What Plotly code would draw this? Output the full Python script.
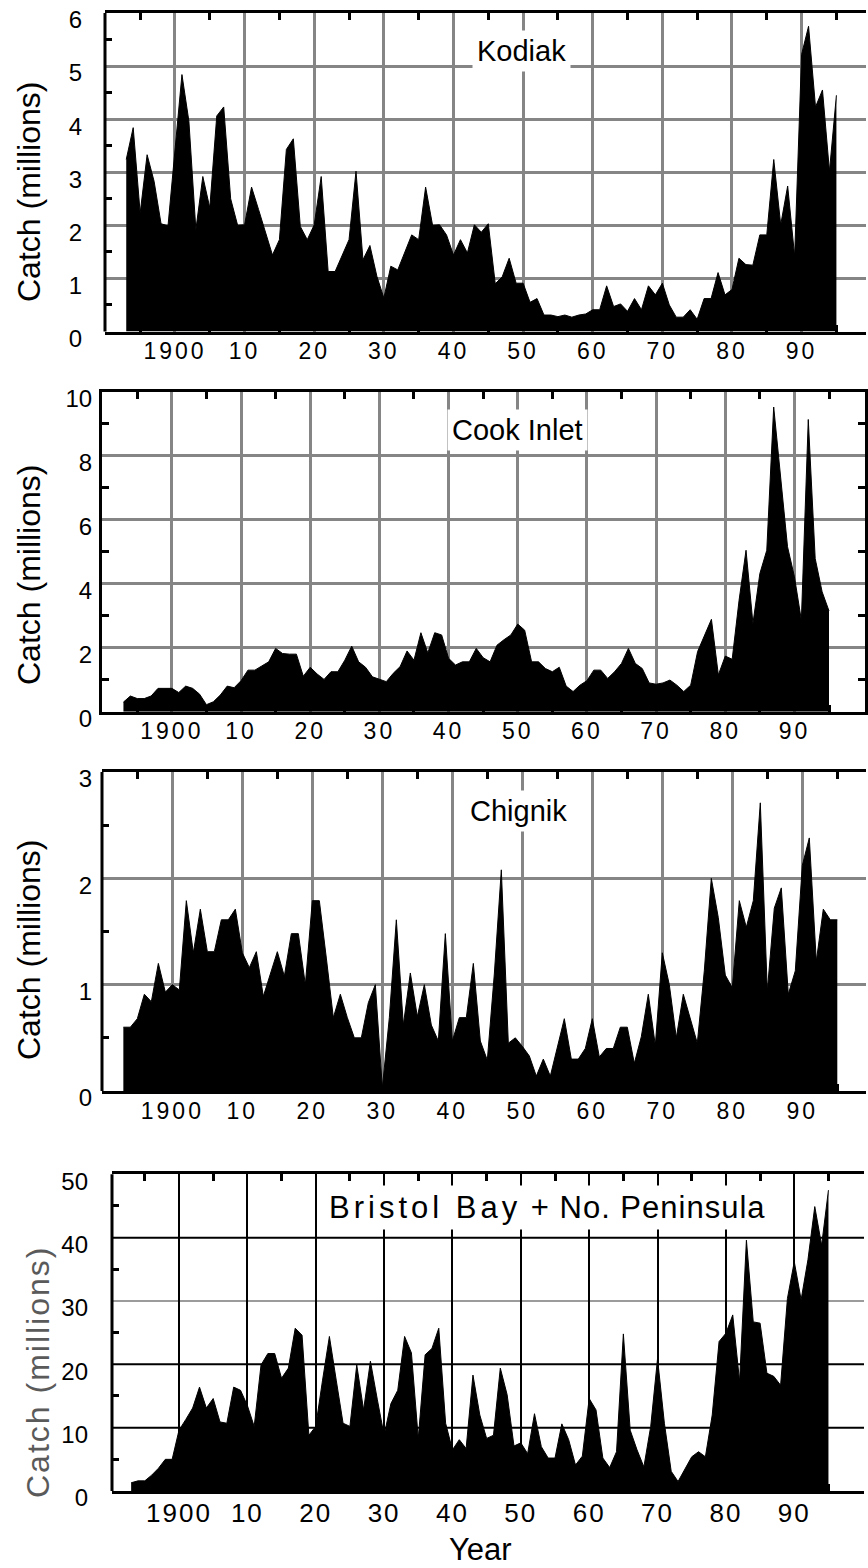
import plotly.graph_objects as go

# ---------------- data ----------------
YEARS = list(range(1893, 1996))

KODIAK = [3.24, 3.84, 2.23, 3.33, 2.83, 2.03, 1.99, 3.49, 4.84, 3.96,
          1.92, 2.92, 2.33, 4.06, 4.23, 2.5, 2.0, 2.01, 2.72, 2.3,
          1.85, 1.44, 1.73, 3.43, 3.63, 1.98, 1.73, 2.01, 2.92, 1.13,
          1.13, 1.43, 1.73, 3.02, 1.35, 1.62, 1.04, 0.63, 1.23, 1.16,
          1.51, 1.82, 1.73, 2.72, 2.0, 2.01, 1.82, 1.44, 1.73, 1.48,
          2.01, 1.87, 2.03, 0.9, 1.03, 1.38, 0.91, 0.91, 0.55, 0.62,
          0.31, 0.31, 0.28, 0.31, 0.27, 0.31, 0.33, 0.41, 0.41, 0.86,
          0.47, 0.52, 0.38, 0.62, 0.41, 0.86, 0.69, 0.91, 0.5, 0.27,
          0.27, 0.41, 0.23, 0.62, 0.62, 1.11, 0.69, 0.79, 1.38, 1.26,
          1.25, 1.82, 1.82, 3.24, 2.01, 2.74, 1.42, 5.22, 5.75, 4.23,
          4.55, 3.02, 4.45]

COOK_INLET = [0.3, 0.49, 0.41, 0.41, 0.49, 0.73, 0.73, 0.73, 0.6, 0.8,
              0.73, 0.55, 0.22, 0.31, 0.52, 0.8, 0.75, 0.97, 1.3, 1.3,
              1.43, 1.56, 1.98, 1.82, 1.8, 1.8, 1.11, 1.39, 1.18, 1.01,
              1.25, 1.25, 1.61, 2.05, 1.56, 1.39, 1.09, 1.01, 0.94, 1.2,
              1.41, 1.9, 1.61, 2.47, 1.84, 2.47, 2.4, 1.67, 1.46, 1.56,
              1.56, 1.98, 1.69, 1.56, 2.08, 2.25, 2.4, 2.74, 2.55, 1.56,
              1.56, 1.35, 1.25, 1.39, 0.8, 0.63, 0.83, 0.97, 1.3, 1.3,
              1.04, 1.25, 1.51, 1.98, 1.51, 1.35, 0.9, 0.86, 0.9, 0.99,
              0.83, 0.63, 0.83, 1.88, 2.4, 2.89, 1.15, 1.74, 1.64, 3.49,
              5.05, 2.76, 4.32, 5.05, 9.53, 7.45, 5.16, 4.22, 2.86, 9.14,
              4.79, 3.75, 3.15]

CHIGNIK = [0.6, 0.6, 0.68, 0.91, 0.84, 1.2, 0.93, 1.0, 0.95, 1.79,
           1.3, 1.71, 1.31, 1.31, 1.61, 1.61, 1.71, 1.3, 1.16, 1.31,
           0.89, 1.11, 1.31, 1.08, 1.48, 1.48, 1.0, 1.79, 1.79, 1.25,
           0.69, 0.91, 0.69, 0.5, 0.5, 0.83, 1.0, 0.03, 0.69, 1.61,
           0.62, 1.11, 0.7, 1.0, 0.62, 0.47, 1.48, 0.47, 0.69, 0.69,
           1.2, 0.47, 0.29, 1.1, 2.08, 0.45, 0.5, 0.42, 0.33, 0.14,
           0.3, 0.14, 0.42, 0.68, 0.3, 0.3, 0.4, 0.68, 0.32, 0.4,
           0.4, 0.6, 0.6, 0.26, 0.51, 0.91, 0.43, 1.3, 1.0, 0.5,
           0.91, 0.67, 0.45, 1.13, 2.0, 1.63, 1.09, 0.97, 1.79, 1.54,
           1.79, 2.71, 0.94, 1.72, 1.91, 0.91, 1.13, 2.12, 2.38, 1.22,
           1.71, 1.61, 1.61]

BRISTOL_BAY = [1.3, 1.6, 1.6, 2.5, 3.6, 5.0, 5.0, 9.6, 11.3, 13.1,
               16.4, 13.1, 14.6, 10.9, 10.7, 16.4, 15.9, 13.5, 10.2, 19.9,
               21.7, 21.7, 17.8, 19.4, 25.7, 24.6, 8.8, 10.2, 17.5, 24.4,
               17.5, 10.7, 10.2, 19.9, 12.8, 20.5, 14.5, 8.8, 13.8, 15.9,
               24.4, 21.8, 8.3, 21.5, 22.5, 25.7, 10.7, 6.5, 8.1, 6.7,
               18.3, 12.0, 8.3, 8.8, 19.4, 15.2, 7.1, 7.6, 5.9, 12.2,
               7.0, 5.2, 5.2, 10.6, 8.1, 4.1, 5.5, 14.6, 12.8, 5.2,
               3.7, 6.2, 24.8, 9.6, 6.5, 3.8, 10.2, 20.9, 10.7, 3.1,
               1.5, 3.5, 5.4, 6.2, 5.4, 12.0, 23.6, 24.9, 27.8, 17.3,
               39.6, 26.7, 26.5, 18.6, 18.1, 16.7, 30.4, 36.2, 30.2, 36.5,
               44.9, 38.8, 47.5]

PANEL_TITLES = ["Kodiak", "Cook Inlet", "Chignik", "Bristol Bay + No. Peninsula"]
X_TICK_YEARS = [1900, 1910, 1920, 1930, 1940, 1950, 1960, 1970, 1980, 1990]
X_TICK_LABELS = ["1900", "10", "20", "30", "40", "50", "60", "70", "80", "90"]
X_MINOR_YEARS = [1895, 1905, 1915, 1925, 1935, 1945, 1955, 1965, 1975, 1985, 1995]
Y_TICKS = [[0, 1, 2, 3, 4, 5, 6],
           [0, 2, 4, 6, 8, 10],
           [0, 1, 2, 3],
           [0, 10, 20, 30, 40, 50]]
Y_MINOR = [[0.5, 1.5, 2.5, 3.5, 4.5, 5.5],
           [1, 3, 5, 7, 9],
           [0.5, 1.5, 2.5],
           [5, 15, 25, 35, 45]]
BB_BLACK_GRID = [10, 20, 40]   # black horizontal grid lines, Bristol Bay panel
BB_GREY_GRID = [30]            # grey horizontal grid line, Bristol Bay panel
Y_TITLE = "Catch (millions)"
X_TITLE = "Year"

SERIES = [KODIAK, COOK_INLET, CHIGNIK, BRISTOL_BAY]

# ---------------- layout geometry (pixels) ----------------
W, H = 868, 1568
FONT = "Liberation Sans, Arial, sans-serif"
NARROW = "Liberation Sans Narrow, Arial Narrow, sans-serif"

PANELS = [
    dict(px=(105, 866), py=(13, 331.5), xr=(1889.95, 1999.25), grid="#858585",
         right_line=False, title_xy=(521, 51), ytitle_xy=(29, 192), ystand=22),
    dict(px=(102, 865), py=(392, 711.7), xr=(1889.9, 2000.2), grid="#858585",
         right_line=True, title_xy=(517, 430), ytitle_xy=(29, 575), ystand=2),
    dict(px=(102, 866), py=(772, 1091), xr=(1889.95, 1999.1), grid="#858585",
         right_line=False, title_xy=(518, 811), ytitle_xy=(29, 950), ystand=9),
    dict(px=(112, 864), py=(1174.3, 1491), xr=(1890.2, 2000.2), grid="#000000",
         right_line=False, title_xy=(547, 1207), ytitle_xy=(38, 1372), ystand=23),
]


def xdom(a, b):
    return [a / W, b / W]


def ydom(top, bottom):
    return [1 - bottom / H, 1 - top / H]


def spaced(t, sp):
    return f'<span style="letter-spacing:{sp}px">{t}</span>'


fig = go.Figure()
layout = dict(width=W, height=H, autosize=False,
              margin=dict(l=0, r=0, t=0, b=0, pad=0),
              paper_bgcolor="white", plot_bgcolor="white", showlegend=False)
annotations = []
shapes = []

for i, (p, vals) in enumerate(zip(PANELS, SERIES)):
    n = i + 1
    suf = "" if n == 1 else str(n)
    xid, yid = "x" + suf, "y" + suf
    ymax = Y_TICKS[i][-1]
    narrow = (i == 3)

    fig.add_trace(go.Scatter(
        x=YEARS, y=vals, mode="lines", fill="tozeroy",
        fillcolor="black", line=dict(color="black", width=1),
        xaxis=xid, yaxis=yid, hoverinfo="skip", showlegend=False))

    if narrow:
        ttext = [spaced(t, 2) for t in X_TICK_LABELS]
        tfont = dict(family=NARROW, size=26, color="black")
    else:
        ttext = [spaced(t, 3) for t in X_TICK_LABELS]
        tfont = dict(family=FONT, size=23, color="black")

    gw = 2 if narrow else 2.5
    layout["xaxis" + suf] = dict(
        domain=xdom(*p["px"]), anchor=yid, range=list(p["xr"]),
        tickmode="array", tickvals=X_TICK_YEARS, ticktext=ttext,
        ticks="", tickfont=tfont, ticklabelstandoff=-3,
        showgrid=True, gridcolor=p["grid"], gridwidth=gw,
        showline=True, linecolor="black", linewidth=3, mirror="ticks",
        zeroline=False, fixedrange=True, automargin=False,
        minor=dict(tickmode="array", tickvals=X_MINOR_YEARS, ticks="inside",
                   ticklen=7, tickwidth=3, tickcolor="black", showgrid=False))
    layout["yaxis" + suf] = dict(
        domain=ydom(*p["py"]), anchor=xid, range=[0, ymax],
        tickmode="array", tickvals=Y_TICKS[i],
        ticktext=[str(v) for v in Y_TICKS[i]], ticks="",
        tickfont=dict(family=FONT, size=24, color="black"),
        ticklabelstandoff=p["ystand"], ticklabelshift=7,
        showgrid=not narrow, gridcolor=p["grid"], gridwidth=gw,
        showline=p["right_line"], linecolor="black", linewidth=3,
        mirror="ticks", zeroline=False, fixedrange=True, automargin=False,
        minor=dict(tickmode="array", tickvals=Y_MINOR[i], ticks="inside",
                   ticklen=7, tickwidth=3, tickcolor="black", showgrid=False))

    if not p["right_line"]:
        # left frame line only (no right-hand frame line in these panels)
        shapes.append(dict(type="line", xref=f"{xid} domain", yref=f"{yid} domain",
                           x0=0, x1=0, y0=0, y1=1, layer="above",
                           line=dict(color="black", width=3)))

    # panel title in white box
    tx, ty = p["title_xy"]
    if narrow:
        ttl = spaced("Bristol Bay", 4) + spaced(" + No. Peninsula", 1)
        tsize = 31
    else:
        ttl = PANEL_TITLES[i]
        tsize = 29
    annotations.append(dict(
        text=ttl, x=tx / W, y=1 - ty / H, xref="paper", yref="paper",
        xanchor="center", yanchor="middle", showarrow=False,
        font=dict(family=FONT, size=tsize, color="black"),
        bgcolor="white", borderpad=4))

    # y-axis title
    yx, yy = p["ytitle_xy"]
    ytxt = spaced(Y_TITLE, 2) if narrow else Y_TITLE
    annotations.append(dict(
        text=ytxt, x=yx / W, y=1 - yy / H, xref="paper", yref="paper",
        xanchor="center", yanchor="middle", showarrow=False, textangle=-90,
        font=dict(family=FONT, size=32,
                  color="black" if not narrow else "#5a5a5a")))

# Bristol Bay panel horizontal grid: black lines, except a thin grey one at 30
for v in BB_BLACK_GRID:
    shapes.append(dict(type="line", xref="x4 domain", yref="y4", x0=0, x1=1,
                       y0=v, y1=v, layer="below",
                       line=dict(color="black", width=2)))
for v in BB_GREY_GRID:
    shapes.append(dict(type="line", xref="x4 domain", yref="y4", x0=0, x1=1,
                       y0=v, y1=v, layer="below",
                       line=dict(color="#7a7a7a", width=1.5)))

annotations.append(dict(
    text=X_TITLE, x=480 / W, y=1 - 1549 / H, xref="paper", yref="paper",
    xanchor="center", yanchor="middle", showarrow=False,
    font=dict(family=NARROW, size=31, color="black")))

layout["annotations"] = annotations
layout["shapes"] = shapes
fig.update_layout(**layout)
fig.write_html("out.html", config={"responsive": False},
               default_width=f"{W}px", default_height=f"{H}px")
